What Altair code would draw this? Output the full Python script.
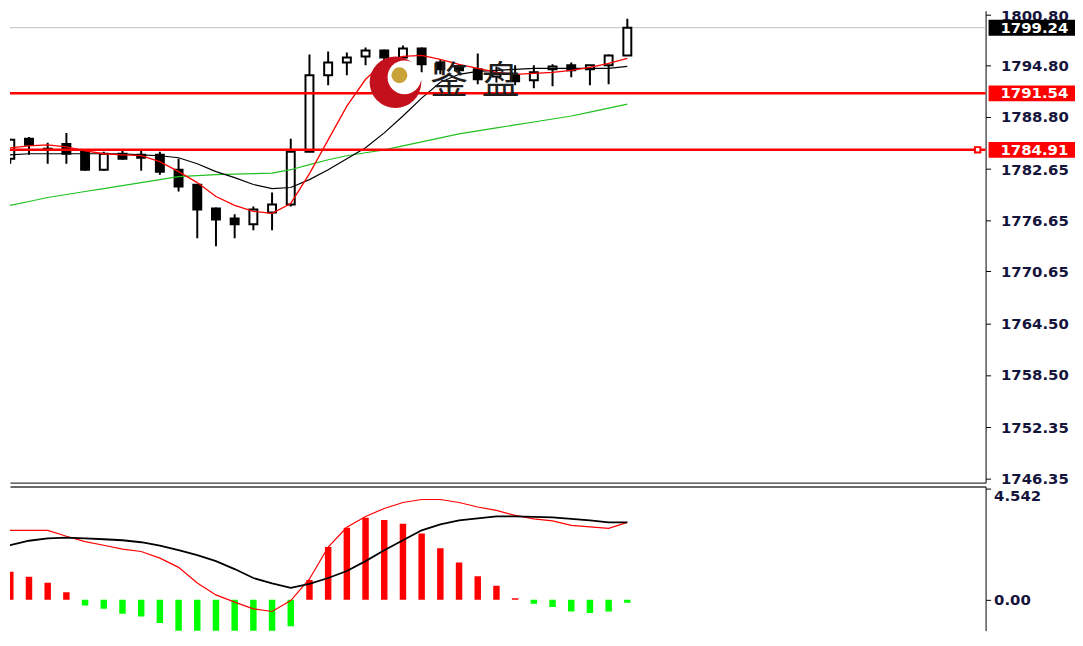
import altair as alt
import pandas as pd

# ---------------- data ----------------
idx = list(range(34))
opens = [1783.87, 1786.20, 1785.05, 1785.61, 1784.68, 1782.58, 1784.45, 1784.33, 1784.33, 1782.58,
         1780.83, 1778.04, 1776.87, 1776.17, 1777.57, 1778.50, 1784.68, 1793.66, 1795.17, 1795.87,
         1796.57, 1795.75, 1796.80, 1795.17, 1794.59, 1794.36, 1793.50, 1793.66, 1793.07, 1794.36,
         1794.82, 1794.36, 1794.82, 1795.99]
highs = [1786.20, 1786.43, 1785.73, 1786.90, 1784.80, 1784.68, 1784.80, 1784.91, 1784.68, 1783.87,
         1780.90, 1778.15, 1777.34, 1778.27, 1779.90, 1786.20, 1796.10, 1796.45, 1796.34, 1796.92,
         1796.69, 1797.15, 1796.92, 1795.52, 1794.94, 1796.22, 1794.70, 1794.82, 1794.82, 1794.94,
         1795.17, 1794.82, 1796.10, 1800.30]
lows = [1783.28, 1784.33, 1783.28, 1783.28, 1782.47, 1782.47, 1783.75, 1782.47, 1782.00, 1780.02,
        1774.54, 1773.61, 1774.54, 1775.47, 1775.47, 1778.27, 1784.68, 1792.49, 1793.66, 1794.82,
        1794.94, 1794.94, 1794.00, 1793.77, 1793.66, 1792.61, 1792.80, 1792.49, 1792.14, 1792.37,
        1793.42, 1792.49, 1792.61, 1795.99]
closes = [1786.08, 1785.50, 1784.95, 1784.45, 1782.58, 1784.45, 1783.87, 1783.98, 1782.35, 1780.60,
          1777.92, 1776.75, 1776.17, 1777.92, 1778.50, 1784.68, 1793.66, 1795.17, 1795.75, 1796.57,
          1795.75, 1796.80, 1794.94, 1794.36, 1794.24, 1793.19, 1793.90, 1792.96, 1794.00, 1794.70,
          1794.24, 1794.82, 1795.99, 1799.24]

ma_idx = list(range(-1, 34))
ma_fast = [1784.91, 1785.15, 1785.38, 1785.50, 1785.26, 1784.80, 1784.45, 1784.33, 1784.22, 1783.52,
           1782.35, 1781.07, 1779.44, 1778.39, 1777.69, 1777.46, 1778.62, 1782.12, 1786.08, 1790.04,
           1793.19, 1795.17, 1795.87, 1795.99, 1795.52, 1794.94, 1794.47, 1794.01, 1793.77, 1793.89,
           1794.01, 1794.24, 1794.59, 1795.05, 1795.64]
ma_mid = [1784.33, 1784.33, 1784.45, 1784.45, 1784.45, 1784.45, 1784.45, 1784.45, 1784.33, 1784.22,
          1783.98, 1783.28, 1782.35, 1781.65, 1780.84, 1780.37, 1780.49, 1781.42, 1782.58, 1783.87,
          1785.15, 1786.90, 1788.88, 1790.98, 1792.84, 1793.77, 1794.12, 1794.24, 1794.36, 1794.47,
          1794.47, 1794.47, 1794.47, 1794.47, 1794.70]
ma_slow = [1778.04, 1778.39, 1778.85, 1779.32, 1779.67, 1780.02, 1780.37, 1780.72, 1781.07, 1781.42,
           1781.77, 1781.88, 1782.00, 1782.06, 1782.12, 1782.18, 1782.58, 1783.17, 1783.75, 1784.22,
           1784.57, 1784.91, 1785.38, 1785.85, 1786.31, 1786.78, 1787.13, 1787.48, 1787.83, 1788.18,
           1788.53, 1788.88, 1789.34, 1789.81, 1790.28]

macd_dif = [2.839, 2.839, 2.839, 2.839, 2.595, 2.380, 2.230, 2.068, 1.975, 1.703,
            1.326, 0.689, 0.203, -0.093, -0.365, -0.474, -0.028, 0.852, 2.149, 2.960,
            3.406, 3.731, 3.974, 4.096, 4.096, 3.974, 3.792, 3.650, 3.447, 3.305,
            3.224, 3.041, 2.981, 2.920, 3.163]
macd_dea = [2.068, 2.230, 2.413, 2.514, 2.543, 2.514, 2.474, 2.433, 2.352, 2.210,
            2.028, 1.825, 1.582, 1.257, 0.892, 0.669, 0.487, 0.649, 0.892, 1.176,
            1.582, 2.028, 2.433, 2.839, 3.082, 3.244, 3.325, 3.406, 3.406, 3.386,
            3.366, 3.305, 3.244, 3.163, 3.163]
macd_hist = [1.148, 0.945, 0.702, 0.312, -0.231, -0.365, -0.568, -0.677, -0.945, -1.31,
             -2.27, -2.73, -2.60, -2.49, -2.24, -1.08, 0.811, 2.161, 2.948, 3.354,
             3.256, 3.110, 2.705, 2.109, 1.529, 0.961, 0.580, 0.069, -0.162, -0.296,
             -0.474, -0.539, -0.474, -0.122]

levels = [1791.54, 1784.91]
last_price = 1799.24
badge_values = [1799.24, 1791.54, 1784.91]
badge_labels = ["1799.24", "1791.54", "1784.91"]
badge_colors = ["#000000", "#ff0000", "#ff0000"]

price_ticks = [1800.80, 1794.80, 1788.80, 1782.65, 1776.65, 1770.65, 1764.50, 1758.50, 1752.35, 1746.35]
macd_ticks = [0.0, 4.542]

# watermark (logo + two characters)
logo_i = [20.6, 21.08, 20.81]
logo_v = [1792.84, 1793.42, 1793.66]
logo_r = [26, 17, 8]
logo_c = ["#c4101c", "#ffffff", "#c9a33a"]
wm_chars = ["鉴", "盘"]
wm_i = [23.47, 26.23]
wm_v = [1792.90, 1792.90]

# ---------------- layout ----------------
W = 982
H_MAIN = 475
H_MACD = 145
X_DOMAIN = [-0.016, 52.16]
Y_DOMAIN = [1745.87, 1801.23]
M_DOMAIN = [-1.257, 4.623]
FONT = "DejaVu Sans"
FS = 15
LBL = "#14143c"

xscale = alt.Scale(domain=X_DOMAIN, nice=False, zero=False, padding=0)
yscale = alt.Scale(domain=Y_DOMAIN, nice=False, zero=False)
mscale = alt.Scale(domain=M_DOMAIN, nice=False, zero=False)

xaxis_main = alt.Axis(orient="bottom", labels=False, ticks=False, grid=False, title=None,
                      domainColor="#3a3a3a", domainWidth=1.5)
xaxis_macd = alt.Axis(orient="top", labels=False, ticks=False, grid=False, title=None,
                      domainColor="#3a3a3a", domainWidth=1.5)
yaxis_main = alt.Axis(orient="right", values=price_ticks, labelExpr="format(datum.value, '.2f')",
                      tickSize=5, tickColor="black", domainColor="black", domainWidth=1,
                      labelFont=FONT, labelFontSize=FS, labelFontWeight="bold", labelColor=LBL,
                      labelPadding=10, grid=False, title=None, labelOverlap=False,
                      labelOffset={"condition": {"test": "datum.value > 1800", "value": 1}, "value": 0})
yaxis_macd = alt.Axis(orient="right", values=macd_ticks,
                      labelExpr="datum.value > 1 ? format(datum.value, '.3f') : format(datum.value, '.2f')",
                      labelBaseline={"condition": {"test": "datum.value > 1", "value": "top"}, "value": "middle"},
                      tickSize=5, tickColor="black", domainColor="black", domainWidth=1,
                      labelFont=FONT, labelFontSize=FS, labelFontWeight="bold", labelColor=LBL,
                      labelPadding=3, grid=False, title=None, labelOverlap=False)

X = alt.X("i:Q", scale=xscale, axis=xaxis_main)
XM = alt.X("i:Q", scale=xscale, axis=xaxis_macd)


def Y(field):
    return alt.Y(f"{field}:Q", scale=yscale, axis=yaxis_main)


def YM(field):
    return alt.Y(f"{field}:Q", scale=mscale, axis=yaxis_macd)


candles = pd.DataFrame({"i": idx, "open": opens, "high": highs, "low": lows, "close": closes})
ma = pd.DataFrame({"i": ma_idx, "fast": ma_fast, "mid": ma_mid, "slow": ma_slow})
mline = pd.DataFrame({"i": ma_idx, "dif": macd_dif, "dea": macd_dea})
hist = pd.DataFrame({"i": idx, "hist": macd_hist, "zero": [0.0] * len(idx)})
lvl = pd.DataFrame({"v": levels})
cur = pd.DataFrame({"v": [last_price]})
badges = pd.DataFrame({"v": badge_values, "label": badge_labels, "bg": badge_colors})
logo = pd.DataFrame({"i": logo_i, "v": logo_v, "s": [(2 * r) ** 2 for r in logo_r], "c": logo_c})
wm = pd.DataFrame({"i": wm_i, "v": wm_v, "t": wm_chars})

cur_rule = alt.Chart(cur).mark_rule(color="#c0c0c0", strokeWidth=1).encode(y=Y("v"))
wicks = alt.Chart(candles).mark_rule(color="black", strokeWidth=2, clip=True).encode(
    x=X, y=Y("low"), y2="high")
bodies = alt.Chart(candles).mark_bar(width=8, stroke="black", strokeWidth=2, clip=True).encode(
    x=X, y=Y("open"), y2="close",
    fill=alt.condition("datum.close >= datum.open", alt.value("white"), alt.value("black")))
slow = alt.Chart(ma).mark_line(color="#22c022", strokeWidth=1.2, clip=True).encode(x=X, y=Y("slow"))
mid = alt.Chart(ma).mark_line(color="black", strokeWidth=1.2, clip=True).encode(x=X, y=Y("mid"))
fast = alt.Chart(ma).mark_line(color="#ff0000", strokeWidth=1.3, clip=True).encode(x=X, y=Y("fast"))
lvl_rules = alt.Chart(lvl).mark_rule(color="#ff0000", strokeWidth=2.5).encode(y=Y("v"))
logo_marks = alt.Chart(logo).mark_circle(opacity=1).encode(
    x=X, y=Y("v"), size=alt.Size("s:Q", scale=None), color=alt.Color("c:N", scale=None))
wm_text = alt.Chart(wm).mark_text(font="Noto Sans CJK SC", fontSize=38, color="#1e1e1e",
                                  align="center", baseline="middle").encode(x=X, y=Y("v"), text="t:N")
badge_rect = alt.Chart(badges).mark_rect(yOffset=-8, y2Offset=8).encode(
    x=alt.value(W + 3), x2=alt.value(W + 90), y=Y("v"), y2="v", color=alt.Color("bg:N", scale=None))
badge_text = alt.Chart(badges).mark_text(font=FONT, fontSize=FS, fontWeight="bold", color="white",
                                         align="left", baseline="middle").encode(
    x=alt.value(W + 15), y=Y("v"), text="label:N")
marker = alt.Chart(pd.DataFrame({"v": [levels[1]]})).mark_point(
    shape="square", size=30, fill="white", stroke="#ff0000", strokeWidth=2, opacity=1, filled=False).encode(
    x=alt.value(W - 8), y=Y("v"))

main = alt.layer(cur_rule, wicks, bodies, slow, mid, fast, lvl_rules, logo_marks, wm_text,
                 badge_rect, badge_text, marker).properties(width=W, height=H_MAIN)

bars = alt.Chart(hist).mark_bar(width=6.5, clip=True).encode(
    x=XM, y=YM("hist"), y2="zero",
    color=alt.condition("datum.hist > 0", alt.value("#ff0000"), alt.value("#00ff00")))
dif = alt.Chart(mline).mark_line(color="#ff0000", strokeWidth=1.2, clip=True).encode(x=XM, y=YM("dif"))
dea = alt.Chart(mline).mark_line(color="black", strokeWidth=1.8, clip=True).encode(x=XM, y=YM("dea"))

macd = alt.layer(bars, dif, dea).properties(width=W, height=H_MACD)

chart = alt.vconcat(main, macd, spacing=4, bounds="flush").properties(
    padding={"top": -2.3, "left": 0, "right": 0, "bottom": 0},
    background="white").configure_view(stroke=None)

chart.save("out.html", embed_options={"renderer": "svg", "actions": False})
